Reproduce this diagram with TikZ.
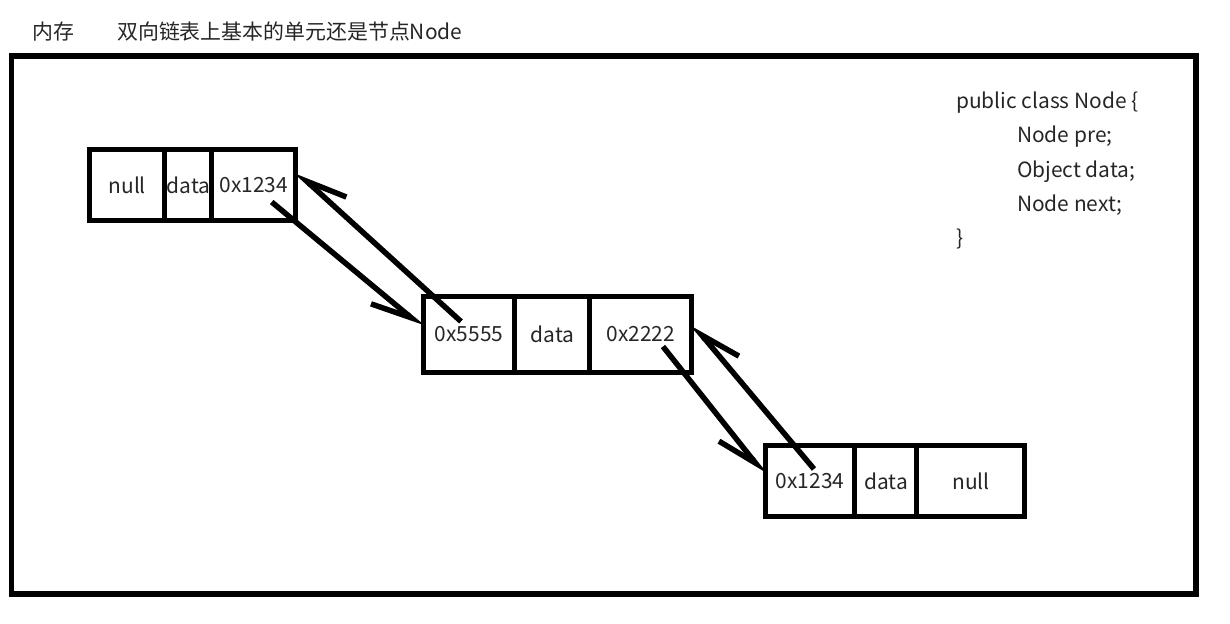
\documentclass[tikz,border=0pt]{standalone}
\usepackage{fontspec}
\setmainfont{Noto Sans CJK SC}
\usetikzlibrary{positioning,calc,arrows.meta}

\tikzset{
  cell/.style={draw, line width=0.1cm, inner sep=0pt, outer sep=0pt, text=black!85},
  link/.style={line width=0.11cm, -{Straight Barb[right, length=0.8cm, width=0.6cm]}},
}

\begin{document}
\begin{tikzpicture}[x=0.02cm, y=-0.02cm, font=\fontsize{11.9}{14}\selectfont]

    \useasboundingbox (0,0) rectangle (1230,623);

    % title line
    \node[anchor=west, text=black!85] (mem) at (26,32) {内存};
    \node[anchor=west, text=black!85] (title) at (111,32) {双向链表上基本的单元还是节点Node};

    % memory frame
    \draw[line width=0.12cm] (11.5,56) rectangle (1196,594);

    % first node
    \node[cell, anchor=north west, minimum width=1.51cm, minimum height=1.42cm] (n1pre) at (89.5,149.5) {null};
    \node[cell, right=0pt of n1pre, minimum width=0.94cm, minimum height=1.42cm] (n1data) {data};
    \node[cell, right=0pt of n1data, minimum width=1.67cm, minimum height=1.42cm] (n1next) {0x1234};

    % second node
    \node[cell, anchor=north west, minimum width=1.84cm, minimum height=1.54cm] (n2pre) at (423,296) {0x5555};
    \node[cell, right=0pt of n2pre, minimum width=1.50cm, minimum height=1.54cm] (n2data) {data};
    \node[cell, right=0pt of n2data, minimum width=2.04cm, minimum height=1.54cm] (n2next) {0x2222};

    % third node
    \node[cell, anchor=north west, minimum width=1.80cm, minimum height=1.44cm] (n3pre) at (765,445) {0x1234};
    \node[cell, right=0pt of n3pre, minimum width=1.24cm, minimum height=1.44cm] (n3data) {data};
    \node[cell, right=0pt of n3data, minimum width=2.16cm, minimum height=1.44cm] (n3next) {null};

    % links
    \draw[link] ($(n1next.center)+(18,17)$) -- ($(n2pre.west)+(0,-7)$);
    \draw[link] ($(n2pre.center)+(-8,-13)$) -- ($(n1next.east)+(0,-14)$);
    \draw[link] ($(n2next.center)+(22,12)$) -- ($(n3pre.west)+(0,-6)$);
    \draw[link] ($(n3pre.center)+(4,-12)$) -- ($(n2next.east)+(0,-11)$);

    % class definition
    \node[anchor=north west, align=left, text=black!85, font=\fontsize{11.9}{19.4}\selectfont] (code) at (950,86)
        {public class Node \{\\
         \hspace{1.22cm}Node pre;\\
         \hspace{1.22cm}Object data;\\
         \hspace{1.22cm}Node next;\\
         \}};

\end{tikzpicture}
\end{document}
